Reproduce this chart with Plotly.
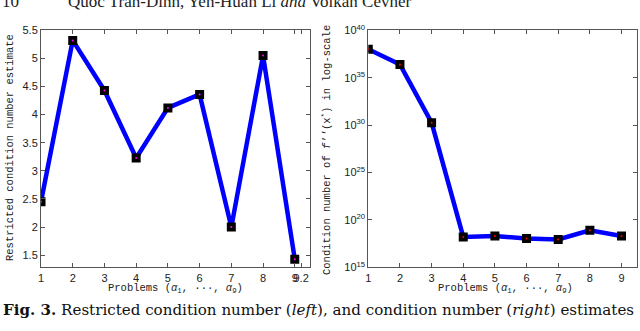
import plotly.graph_objects as go

# data
problems = [1, 2, 3, 4, 5, 6, 7, 8, 9]
restricted_cond = [2.45, 5.32, 4.43, 3.23, 4.12, 4.36, 2.0, 5.05, 1.43]
cond_number = [1.0e38, 2.5e36, 1.8e30, 1.6e18, 2.0e18, 1.1e18, 8.5e17, 8.0e18, 2.0e18]

left_xticks = [1, 2, 3, 4, 5, 6, 7, 8, 9, 9.2]
left_xticktext = ["1", "2", "3", "4", "5", "6", "7", "8", "9", "9.2"]
left_yticks = [1.5, 2, 2.5, 3, 3.5, 4, 4.5, 5, 5.5]
left_yticktext = ["1.5", "2", "2.5", "3", "3.5", "4", "4.5", "5", "5.5"]
right_exps = [15, 20, 25, 30, 35, 40]

page_no = "10"
header = "Quoc Tran-Dinh, Yen-Huan Li <i>and</i> Volkan Cevher"
caption = ("<b>Fig. 3.</b> Restricted condition number (<i>left</i>), "
           "and condition number (<i>right</i>) estimates")
xtitle = "Problems (<i>α</i><sub>1</sub>, ···, <i>α</i><sub>9</sub>)"
ytitle_left = "Restricted condition number estimate"
ytitle_right = "Condition number of <i>f''</i>(x<sup>*</sup>) in log-scale"

BLUE = "#0000ff"
tick_font = dict(family="Liberation Sans", size=11, color="#222")
mono = dict(family="Liberation Mono", size=10.5, color="#222")

fig = go.Figure()

# left panel
fig.add_trace(go.Scatter(
    x=problems, y=restricted_cond, mode="lines+markers",
    line=dict(color=BLUE, width=4.5),
    marker=dict(symbol="square", size=9, color="black"),
    xaxis="x", yaxis="y", showlegend=False))
fig.add_trace(go.Scatter(
    x=problems, y=restricted_cond, mode="markers",
    marker=dict(size=2, color="#ff00ff"),
    xaxis="x", yaxis="y", showlegend=False))

# right panel
fig.add_trace(go.Scatter(
    x=problems, y=cond_number, mode="lines+markers",
    line=dict(color=BLUE, width=4.5),
    marker=dict(symbol="square", size=9, color="black"),
    xaxis="x2", yaxis="y2", showlegend=False))
fig.add_trace(go.Scatter(
    x=problems, y=cond_number, mode="markers",
    marker=dict(size=2, color="#ff0000"),
    xaxis="x2", yaxis="y2", showlegend=False))

axis_common = dict(
    showline=True, linecolor="#555", linewidth=1, mirror="ticks",
    ticks="inside", ticklen=4, tickcolor="#555",
    showgrid=False, zeroline=False, tickfont=tick_font, tickangle=0,
)

ydom = [1 - 267.3 / 331, 1 - 30.3 / 331]

fig.update_layout(
    width=640, height=331,
    margin=dict(l=0, r=0, t=0, b=0, autoexpand=False),
    paper_bgcolor="white", plot_bgcolor="white",
    xaxis=dict(domain=[41 / 640, 310 / 640], range=[1, 9.48],
               tickvals=left_xticks, ticktext=left_xticktext, anchor="y",
               **axis_common),
    yaxis=dict(domain=ydom, range=[1.285, 5.5],
               tickvals=left_yticks, ticktext=left_yticktext, anchor="x",
               **axis_common),
    xaxis2=dict(domain=[368.3 / 640, 636.7 / 640], range=[1, 9.48],
                tickvals=problems, anchor="y2", **axis_common),
    yaxis2=dict(domain=ydom, type="log", range=[15, 40],
                tickvals=[10.0 ** e for e in right_exps],
                ticktext=["10<sup>%d</sup>" % e for e in right_exps],
                anchor="x2", **axis_common),
)


def px(x, y):
    # pixel position -> paper coordinates
    return x / 640, 1 - y / 331


head_font = dict(family="Liberation Serif", size=17, color="#222")
cap_font = dict(family="DejaVu Serif", size=15.1, color="#111")

annotations = []
for text, (x, y), anchor, font, angle in [
    (page_no, (0, 2), "left", head_font, 0),
    (header, (66, 2), "left", head_font, 0),
    (caption, (1, 310), "left", cap_font, 0),
    (xtitle, (175.5, 288), "center", mono, 0),
    (xtitle, (505, 288), "center", mono, 0),
    (ytitle_left, (10, 148), "center", mono, -90),
    (ytitle_right, (326, 150), "center", mono, -90),
]:
    ax, ay = px(x, y)
    annotations.append(dict(
        text=text, x=ax, y=ay, xref="paper", yref="paper",
        xanchor=anchor, yanchor="middle", textangle=angle,
        showarrow=False, font=font))
fig.update_layout(annotations=annotations)

# the page has a default 8px body margin; drop it so the figure sits at 0,0
fig.write_html("out.html", config={"displayModeBar": False},
               post_script="document.body.style.margin='0';")
